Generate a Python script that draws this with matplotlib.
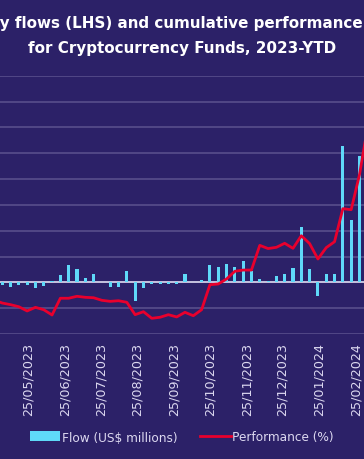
import numpy as np
import pandas as pd
import matplotlib
matplotlib.use("Agg")
import matplotlib.pyplot as plt
import matplotlib.dates as mdates

# Weekly data (Wednesdays), visible window of the original chart
semanas = pd.date_range("2023-04-26", "2024-03-06", freq="7D")

fluxos = [-10, -10, -17, -12, -10, -23, -15, 5,
          28, 67, 52, 17, 32, 3, -17, -17, 45, -73,
          -22, -8, -8, -8, -6, 32, 3, 10, 67, 58,
          71, 58, 84, 45, 13, 4, 23, 32, 54, 214,
          52, -52, 31, 32, 526, 240, 490, 300]

desempenho = [32.9, 30.0, 28.4, 26.4, 22.3, 25.8, 23.5, 18.4,
              34.6, 34.6, 36.5, 35.5, 35.1, 32.6, 31.6, 32.2, 30.7, 18.7,
              21.6, 15.2, 16.2, 18.7, 16.5, 21.0, 17.7, 23.5, 47.7, 48.4,
              53.2, 60.7, 61.9, 61.9, 85.8, 82.7, 83.9, 87.8, 82.9, 95.1,
              87.5, 72.6, 83.6, 89.3, 121.3, 120.3, 154.1, 201.3]

datas_ticks = pd.date_range("2023-05-01", "2024-02-01", freq="MS") + pd.Timedelta(days=24)

titulo_l1 = "Weekly flows (LHS) and cumulative performance (RHS)"
titulo_l2 = "for Cryptocurrency Funds, 2023-YTD"

fundo = "#2c2168"
cor_barra = "#5fd9f9"
cor_linha = "#e8002d"
cor_grade = "#5b528f"
cor_texto = "#dcd8f0"

W, H = 364, 460
fig = plt.figure(figsize=(W / 100, H / 100), dpi=100, facecolor=fundo)

# os eixos passam das bordas da figura (o original esta recortado)
ax = fig.add_axes([0, (H - 335) / H, 1, (335 - 76.7) / H])
ax.set_facecolor(fundo)
ref = mdates.date2num(pd.Timestamp("2023-05-25"))
px_dia = 1.187
ax.set_xlim(ref - 28.3 / px_dia, ref + (W - 28.3) / px_dia)
ax.set_ylim(-200, 800)
ax.set_yticks(np.arange(-200, 801, 100))
ax.grid(True, axis="y", color=cor_grade, linewidth=1.1)
ax.set_axisbelow(True)
ax.axhline(0, color="#cfcbe6", linewidth=1.3, zorder=1.5)

ax.bar(semanas, fluxos, width=2.6, color=cor_barra, zorder=2,
       label="Flow (US$ millions)")

ax2 = ax.twinx()
ax2.set_ylim(0, 250)
ax2.plot(semanas, desempenho, color=cor_linha, linewidth=2.0,
         label="Performance (%)", zorder=3)
ax2.set_yticks([])

ax.set_xticks(datas_ticks)
ax.set_xticklabels([d.strftime("%d/%m/%Y") for d in datas_ticks],
                   rotation=90, color=cor_texto, fontsize=9.2)
ax.tick_params(axis="x", length=0, pad=6)
ax.tick_params(axis="y", length=0, labelleft=False)
for a in (ax, ax2):
    for s in a.spines.values():
        s.set_visible(False)

fig.text(0.5, 1 - 28 / H, titulo_l1, ha="center", va="baseline",
         color="white", fontsize=10.9, fontweight="bold")
fig.text(0.5, 1 - 53 / H, titulo_l2, ha="center", va="baseline",
         color="white", fontsize=10.9, fontweight="bold")

h1, l1 = ax.get_legend_handles_labels()
h2, l2 = ax2.get_legend_handles_labels()
leg = fig.legend(h1 + h2, l1 + l2, loc="center", bbox_to_anchor=(0.5, 1 - 438 / H),
                 ncol=2, frameon=False, fontsize=8.7, handlelength=2.5,
                 handleheight=0.9, handletextpad=0.15, columnspacing=1.9,
                 labelcolor=cor_texto)

fig.savefig("out.png", dpi=100, facecolor=fundo)
